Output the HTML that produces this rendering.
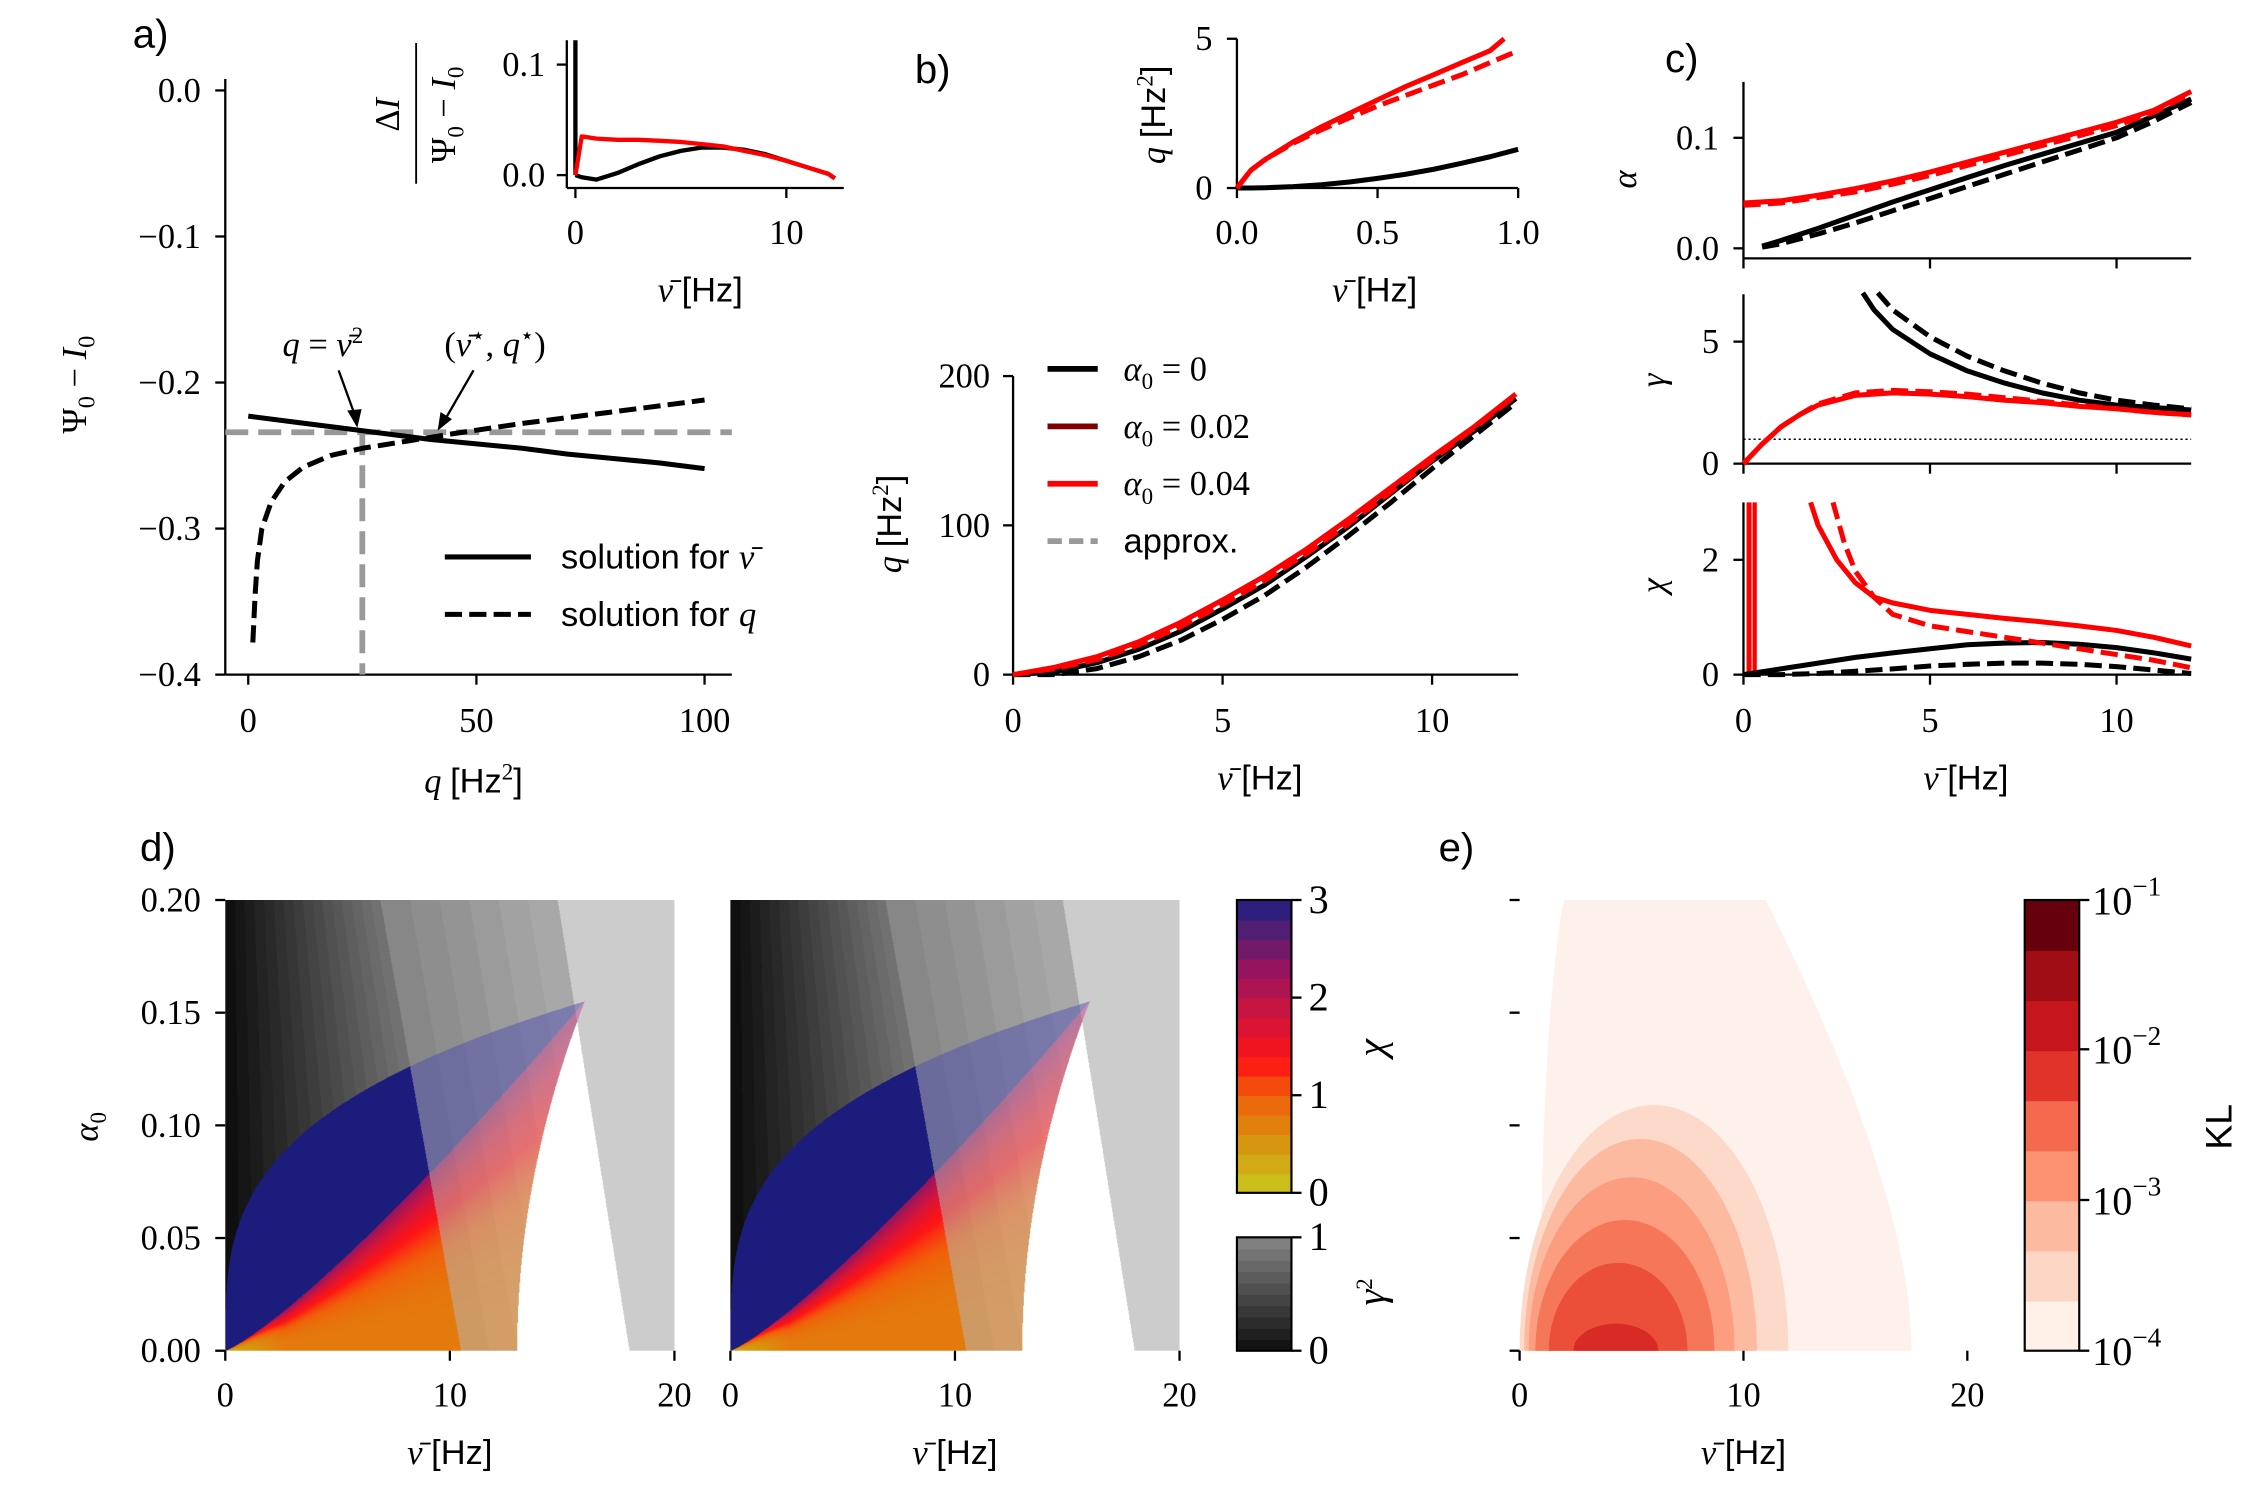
<!DOCTYPE html>
<html><head><meta charset="utf-8">
<style>
html,body{margin:0;padding:0;background:#fff;width:2250px;height:1500px;overflow:hidden}
#wrap{position:absolute;left:0;top:0;width:1568px;height:1045px;transform:scale(1.43495,1.43541);transform-origin:0 0;overflow:hidden}
canvas{position:absolute}
svg{position:absolute;left:0;top:0}
text{font-family:"Liberation Serif",serif;font-size:24px;fill:#000}
.s{font-family:"Liberation Sans",sans-serif}
.i{font-style:italic}
</style></head>
<body>
<div id="wrap">
<canvas id="hm1" width="626" height="628" style="left:157px;top:627px;width:313px;height:314px"></canvas>
<canvas id="hm2" width="626" height="628" style="left:509px;top:627px;width:313px;height:314px"></canvas>
<svg id="fig" width="1568" height="1045" viewBox="0 0 1568 1045">
<defs><clipPath id="clipE"><rect x="1059" y="627" width="312" height="314"/></clipPath></defs>
</svg>
</div>
<script>
// ---- data ----
const qA=[0,10,20,30,40,50,60,70,80,90,100];
const solNu=[-0.223,-0.227,-0.231,-0.235,-0.239,-0.242,-0.245,-0.249,-0.252,-0.255,-0.259];
const qDash=[1,1.5,2,3,5,8,12,18,25,35,45,60,80,100];
const solQ=[-0.378,-0.345,-0.322,-0.300,-0.282,-0.268,-0.258,-0.250,-0.245,-0.240,-0.235,-0.228,-0.220,-0.212];
const nuIn=[0,0.3,1,2,3,4,5,6,7,8,9,10,11,12,12.3];
const blackIn=[0,-0.002,-0.004,0.002,0.01,0.017,0.022,0.025,0.025,0.023,0.019,0.013,0.007,0.001,-0.003];
const redIn=[0,0.035,0.033,0.032,0.032,0.031,0.030,0.028,0.026,0.022,0.018,0.013,0.007,0.001,-0.003];
const nuB=[0,0.05,0.1,0.2,0.3,0.4,0.5,0.6,0.7,0.8,0.9,0.95];
const redB=[0,0.6,0.95,1.55,2.05,2.5,2.95,3.4,3.8,4.2,4.6,5.0];
const nuBd=[0,0.05,0.1,0.2,0.3,0.4,0.5,0.6,0.7,0.8,0.9,1.0];
const redBd=[0,0.6,0.95,1.5,1.95,2.35,2.75,3.1,3.45,3.8,4.2,4.6];
const blackB=[0,0,0.01,0.05,0.11,0.2,0.32,0.46,0.63,0.83,1.05,1.3];
const nuL=[0,1,2,3,4,5,6,7,8,9,10,11,12];
const qRed=[0,5,12,22,35,50,66,84,104,125,146,166,188];
const qRedD=[0,4,10,20,32,47,63,81,101,122,144,165,187];
const qBlack=[0,2,8,17,29,44,60,79,99,121,143,163,185];
const qBlackD=[0,0,4,12,23,37,53,72,93,115,138,160,182];
const nuC=[0.5,1,2,3,4,5,6,7,8,9,10,11,12];
const alphaBlack=[0.002,0.007,0.018,0.030,0.042,0.053,0.064,0.075,0.085,0.095,0.105,0.12,0.135];
const alphaBlackD=[0.001,0.004,0.013,0.023,0.034,0.045,0.056,0.067,0.078,0.089,0.1,0.115,0.132];
const nuC0=[0,1,2,3,4,5,6,7,8,9,10,11,12];
const alphaRed=[0.041,0.043,0.048,0.054,0.061,0.069,0.078,0.087,0.096,0.105,0.114,0.125,0.142];
const alphaRedD=[0.039,0.041,0.046,0.051,0.058,0.066,0.075,0.084,0.093,0.102,0.111,0.123,0.14];
const nuG=[0,0.5,1,1.5,2,3,4,5,6,7,8,9,10,11,12];
const gamRed=[0,0.8,1.5,2.0,2.4,2.8,2.9,2.85,2.75,2.6,2.5,2.35,2.25,2.1,2.0];
const gamRedD=[0,0.8,1.5,2.0,2.45,2.9,3.0,2.95,2.85,2.7,2.55,2.4,2.25,2.1,2.0];
const nuGB=[3.2,3.5,4,5,6,7,8,9,10,11,12];
const gamBlack=[7,6.3,5.5,4.5,3.8,3.3,2.9,2.6,2.4,2.3,2.2];
const nuGBd=[3.6,4,5,6,7,8,9,10,11,12];
const gamBlackD=[7,6.3,5.2,4.4,3.8,3.3,2.9,2.6,2.4,2.25];
const nuX=[1.8,2,2.5,3,3.5,4,5,6,7,8,9,10,11,12];
const chiRed=[3,2.6,2.0,1.6,1.35,1.25,1.12,1.05,0.98,0.92,0.85,0.77,0.65,0.5];
const nuXd=[2.4,2.7,3,3.5,4,5,6,7,8,9,10,11,12];
const chiRedD=[3,2.3,1.8,1.35,1.05,0.85,0.75,0.65,0.55,0.45,0.35,0.25,0.12];
const nuX2=[0,1,2,3,4,5,6,7,8,9,10,11,12];
const chiBlack=[0,0.1,0.2,0.3,0.38,0.45,0.52,0.55,0.56,0.53,0.47,0.38,0.27];
const chiBlackD=[0,0,0.02,0.06,0.1,0.15,0.18,0.2,0.2,0.18,0.14,0.08,0.02];
const klLevels=[1,2,3,4,5,6];
const klCx=[6.0,5.4,5.0,4.7,4.4,4.3];
const klRx=[6.0,5.2,4.6,4.0,3.1,1.9];
const klRy=[0.109,0.094,0.077,0.058,0.039,0.012];
const klColors=['#fcd9c9','#fcbba1','#fc9d80','#f6765a','#eb4f3a','#d92b26'];
const klBar=['#fff0e8','#fdd6c6','#fcbba1','#fc9272','#f5694f','#e03329','#c4161c','#a10d15','#67000d'];

const NS='http://www.w3.org/2000/svg';
const svg=document.getElementById('fig');
function el(tag,attrs,parent){const e=document.createElementNS(NS,tag);for(const k in attrs)e.setAttribute(k,attrs[k]);(parent||svg).appendChild(e);return e;}
function txt(x,y,s,cls,anchor,rot,size){const t=el('text',{x:x,y:y,'text-anchor':anchor||'middle'});if(cls)t.setAttribute('class',cls);if(size)t.style.fontSize=size+'px';if(rot)t.setAttribute('transform','rotate('+rot+' '+x+' '+y+')');t.innerHTML=s;return t;}
function lin(d0,d1,p0,p1){return v=>p0+(v-d0)*(p1-p0)/(d1-d0);}
function line(xs,ys,sx,sy,color,w,dash,name){let d='';for(let i=0;i<xs.length;i++){d+=(i?'L':'M')+sx(xs[i]).toFixed(1)+','+sy(ys[i]).toFixed(1);}const p=el('path',{d:d,fill:'none',stroke:color,'stroke-width':w,'stroke-linejoin':'round'});if(dash)p.setAttribute('stroke-dasharray',dash);return p;}
function seg(x1,y1,x2,y2,c,w,dash){const l=el('line',{x1:x1,y1:y1,x2:x2,y2:y2,stroke:c||'#000','stroke-width':w||1.6});if(dash)l.setAttribute('stroke-dasharray',dash);return l;}
function xticks(vals,labs,sx,y,len,ly){vals.forEach((v,i)=>{seg(sx(v),y,sx(v),y+len);if(labs)txt(sx(v),ly,labs[i]);});}
function yticks(vals,labs,sy,x,lx){vals.forEach((v,i)=>{seg(x,sy(v),x-7,sy(v));if(labs)txt(lx,sy(v)+8,labs[i],null,'end');});}
const NU='<tspan class="i">ν̄</tspan>';

// ---- panel a ----
{const sx=lin(0,100,173,491),sy=lin(0,-0.4,63,470);
seg(157,55,157,470);seg(157,470,510,470);
xticks([0,50,100],['0','50','100'],sx,470,7,510);
yticks([0,-0.1,-0.2,-0.3,-0.4],['0.0','−0.1','−0.2','−0.3','−0.4'],sy,157,140);
const h=seg(157,sy(-0.234),510,sy(-0.234),'#999',4,'16,7');
const v=seg(sx(25),sy(-0.234),sx(25),470,'#999',4,'16,7');
line(qA,solNu,sx,sy,'#000',3.5,null,'line-solution-nu');
line(qDash,solQ,sx,sy,'#000',3.5,'12,5','line-solution-q');
txt(105,33,'a)','s','middle',0,28);
txt(60,268,'Ψ<tspan dy="6" font-size="17">0</tspan><tspan dy="-6"> − </tspan><tspan class="i">I</tspan><tspan dy="6" font-size="17">0</tspan>',null,'middle',-90);
txt(330,552,'<tspan class="i">q</tspan> <tspan class="s">[Hz</tspan><tspan dy="-9" font-size="16">2</tspan><tspan dy="9" class="s">]</tspan>');
txt(225,248,'<tspan class="i">q</tspan> = '+NU+'<tspan dy="-9" font-size="16">2</tspan>');
txt(345,248,'('+NU+'<tspan dy="-9" font-size="16">⋆</tspan><tspan dy="9">, </tspan><tspan class="i">q</tspan><tspan dy="-9" font-size="16">⋆</tspan><tspan dy="9">)</tspan>');
seg(236,258,249,294,'#000',1.6);el('path',{d:'M249,298 L242,286 L252,285 Z',fill:'#000'});
seg(330,258,308,296,'#000',1.6);el('path',{d:'M305,300 L307,287 L315,292 Z',fill:'#000'});
const l1=seg(310,388,370,388,'#000',3.5);
const l2=seg(310,428,370,428,'#000',3.5,'12,5');
txt(391,396,'solution for <tspan class="i" font-family="Liberation Serif">ν̄</tspan>','s','start');
txt(391,436,'solution for <tspan class="i" font-family="Liberation Serif">q</tspan>','s','start');
}
// inset a
{const sx=lin(0,10,401,548),sy=lin(0,0.1,122,45);
seg(395,28,395,131);seg(395,131,588,131);
xticks([0,10],['0','10'],sx,131,7,170);
yticks([0,0.1],['0.0','0.1'],sy,395,380);
seg(sx(0),sy(0),sx(0),28,'#000',3);
line(nuIn,blackIn,sx,sy,'#000',3,null,'inset-black');
line(nuIn,redIn,sx,sy,'#f00',3,null,'inset-red');
txt(488,210,NU+' <tspan class="s">[Hz]</tspan>');
txt(278,80,'Δ<tspan class="i">I</tspan>',null,'middle',-90);
seg(290,30,290,128,'#000',1.3);
txt(317,80,'Ψ<tspan dy="6" font-size="16">0</tspan><tspan dy="-6"> − </tspan><tspan class="i">I</tspan><tspan dy="6" font-size="16">0</tspan>',null,'middle',-90);
}
// panel b top
{const sx=lin(0,1,862,1058),sy=lin(0,5,131,27);
seg(862,27,862,131);seg(862,131,1058,131);
xticks([0,0.5,1],['0.0','0.5','1.0'],sx,131,7,170);
yticks([0,5],['0','5'],sy,862,845);
line(nuBd,blackB,sx,sy,'#000',3.5,null,'b-top-black');
line(nuB,redB,sx,sy,'#f00',3.5,null,'b-top-red');
line(nuBd,redBd,sx,sy,'#f00',3.5,'12,5','b-top-red-dashed');
txt(650,58,'b)','s','middle',0,28);
txt(958,210,NU+' <tspan class="s">[Hz]</tspan>');
txt(812,80,'<tspan class="i">q</tspan> <tspan class="s">[Hz</tspan><tspan dy="-9" font-size="16">2</tspan><tspan dy="9" class="s">]</tspan>',null,'middle',-90);
}
// panel b bottom
{const sx=lin(0,10,706,998),sy=lin(0,200,470,262);
seg(706,262,706,470);seg(706,470,1058,470);
xticks([0,5,10],['0','5','10'],sx,470,7,510);
yticks([0,100,200],['0','100','200'],sy,706,690);
line(nuL,qBlackD,sx,sy,'#000',3.5,'12,5','b-black-dashed');
line(nuL,qBlack,sx,sy,'#000',3.5,null,'b-black');
line(nuL,qRedD,sx,sy,'#f00',3.5,'12,5','b-red-dashed');
line(nuL,qRed,sx,sy,'#f00',3.5,null,'b-red');
txt(878,550,NU+' <tspan class="s">[Hz]</tspan>');
txt(628,365,'<tspan class="i">q</tspan> <tspan class="s">[Hz</tspan><tspan dy="-9" font-size="16">2</tspan><tspan dy="9" class="s">]</tspan>',null,'middle',-90);
const cols=['#000','#800000','#f00','#999'],labs=['<tspan class="i">α</tspan><tspan dy="6" font-size="16">0</tspan><tspan dy="-6"> = 0</tspan>','<tspan class="i">α</tspan><tspan dy="6" font-size="16">0</tspan><tspan dy="-6"> = 0.02</tspan>','<tspan class="i">α</tspan><tspan dy="6" font-size="16">0</tspan><tspan dy="-6"> = 0.04</tspan>','<tspan class="s">approx.</tspan>'];
cols.forEach((c,i)=>{const y=257+40*i;const s=seg(730,y,765,y,c,4,i==3?'10,5':null);txt(783,y+8,labs[i],null,'start');});
}
// panel c
{const sx=lin(0,10,1215,1475);
txt(1172,50,'c)','s','middle',0,28);
let sy=lin(0,0.1,173,96);
seg(1215,57,1215,180);seg(1215,180,1527,180);
xticks([0,5,10],null,sx,180,7,0);
yticks([0,0.1],['0.0','0.1'],sy,1215,1198);
line(nuC,alphaBlackD,sx,sy,'#000',3.5,'12,5','alpha-black-dashed');
line(nuC,alphaBlack,sx,sy,'#000',3.5,null,'alpha-black');
line(nuC0,alphaRedD,sx,sy,'#f00',3.5,'12,5','alpha-red-dashed');
line(nuC0,alphaRed,sx,sy,'#f00',3.5,null,'alpha-red');
txt(1140,125,'<tspan class="i">α</tspan>',null,'middle',-90);
sy=lin(0,5,323,238);
seg(1215,205,1215,323);seg(1215,323,1527,323);
xticks([0,5,10],null,sx,323,7,0);
yticks([0,5],['0','5'],sy,1215,1198);
seg(1215,sy(1),1527,sy(1),'#000',1,'1.5,2');
line(nuGB,gamBlack,sx,sy,'#000',3.5,null,'gamma-black');
line(nuGBd,gamBlackD,sx,sy,'#000',3.5,'12,5','gamma-black-dashed');
line(nuG,gamRed,sx,sy,'#f00',3.5,null,'gamma-red');
line(nuG,gamRedD,sx,sy,'#f00',3.5,'12,5','gamma-red-dashed');
txt(1160,265,'<tspan class="i">γ</tspan>',null,'middle',-90);
sy=lin(0,2,470,390);
seg(1215,350,1215,470);seg(1215,470,1527,470);
xticks([0,5,10],['0','5','10'],sx,470,7,510);
yticks([0,2],['0','2'],sy,1215,1198);
seg(sx(0.15),470,sx(0.15),350,'#f00',3.5);seg(sx(0.3),470,sx(0.3),350,'#f00',3);
line(nuX2,chiBlack,sx,sy,'#000',3.5,null,'chi-black');
line(nuX2,chiBlackD,sx,sy,'#000',3.5,'12,5','chi-black-dashed');
line(nuX,chiRed,sx,sy,'#f00',3.5,null,'chi-red');
line(nuXd,chiRedD,sx,sy,'#f00',3.5,'12,5','chi-red-dashed');
txt(1160,408,'<tspan class="i">χ</tspan>',null,'middle',-90);
txt(1370,550,NU+' <tspan class="s">[Hz]</tspan>');
}
// panel d axes
[[157,470],[509,822]].forEach(([x0,x1],k)=>{
 const sx=lin(0,20,x0,x1),sy=lin(0,0.2,941,627);
 xticks([0,10,20],['0','10','20'],sx,941,7,980);
 if(k==0) yticks([0,0.05,0.1,0.15,0.2],['0.00','0.05','0.10','0.15','0.20'],sy,157,140);
 txt((x0+x1)/2,1020,NU+' <tspan class="s">[Hz]</tspan>');
});
txt(110,600,'d)','s','middle',0,28);
txt(68,785,'<tspan class="i">α</tspan><tspan dy="6" font-size="16">0</tspan>',null,'middle',-90);
const chiStops=[[0,[200,200,30]],[0.5,[215,150,15]],[1,[240,95,10]],[1.35,[255,20,20]],[1.8,[210,20,60]],[2.3,[150,20,95]],[2.7,[80,30,115]],[3,[28,28,128]]];
function chiCol(v){v=Math.max(0,Math.min(3,v));for(let i=1;i<chiStops.length;i++){if(v<=chiStops[i][0]){const a=chiStops[i-1],b=chiStops[i];const t=(v-a[0])/(b[0]-a[0]);return a[1].map((c,j)=>c+(b[1][j]-c)*t);}}return chiStops[7][1];}
{const n=15;for(let i=0;i<n;i++){const v=(i+0.5)*3/n;const c=chiCol(v).map(Math.round);const r=el('rect',{x:862,y:831-(i+1)*204/n,width:38,height:204/n+0.6,fill:'rgb('+c+')'});}
el('rect',{x:862,y:627,width:38,height:204,fill:'none',stroke:'#000','stroke-width':1.5});
const sy=lin(0,3,831,627);[0,1,2,3].forEach(v=>{seg(900,sy(v),907,sy(v));txt(912,sy(v)+9,''+v,null,'start',0,28);});
txt(965,730,'<tspan class="i">χ</tspan>',null,'middle',-90,28);
for(let i=0;i<10;i++){const g=Math.round(20+i*12);const r=el('rect',{x:862,y:941-(i+1)*7.9,width:38,height:8.5,fill:'rgb('+g+','+g+','+g+')'});}
el('rect',{x:862,y:862,width:38,height:79,fill:'none',stroke:'#000','stroke-width':1.5});
seg(900,862,907,862);seg(900,941,907,941);txt(912,871,'1',null,'start',0,28);txt(912,950,'0',null,'start',0,28);
txt(965,900,'<tspan class="i">γ</tspan><tspan dy="-9" font-size="16">2</tspan>',null,'middle',-90,28);
}
// panel e
{const sx=lin(0,20,1059,1371),sy=lin(0,0.2,941,627);
const ge=el('g',{'clip-path':'url(#clipE)'});
const bg=el('path',{d:'M'+sx(1)+','+sy(0)+' C'+sx(0.8)+','+sy(0.1)+' '+sx(1.5)+','+sy(0.18)+' '+sx(2)+','+sy(0.2)+' L'+sx(11)+','+sy(0.2)+' C'+sx(14)+','+sy(0.14)+' '+sx(17.5)+','+sy(0.06)+' '+sx(17.5)+','+sy(0)+' Z',fill:'#fef0ea'},ge);

klLevels.forEach((lv,i)=>{const e=el('ellipse',{cx:sx(klCx[i]),cy:sy(0),rx:klRx[i]*15.6,ry:klRy[i]*1570,fill:klColors[i]},ge);});
xticks([0,10,20],['0','10','20'],sx,941,7,980);
[0,0.05,0.1,0.15,0.2].forEach(v=>seg(1059,sy(v),1052,sy(v)));
txt(1215,1020,NU+' <tspan class="s">[Hz]</tspan>');
txt(1015,600,'e)','s','middle',0,28);
const bh=314/9;klBar.forEach((c,i)=>{const r=el('rect',{x:1411,y:941-(i+1)*bh,width:38,height:bh+0.6,fill:c});});
el('rect',{x:1411,y:627,width:38,height:314,fill:'none',stroke:'#000','stroke-width':1.5});
[[941,'-4'],[836,'-3'],[731,'-2'],[627,'-1']].forEach(([y,e])=>{seg(1449,y,1456,y);txt(1458,y+10,'10<tspan dy="-13" font-size="19">'+e.replace('-','−')+'</tspan>',null,'start',0,28);});
txt(1555,785,'KL','s','middle',-90,26);
}
// heatmaps
function drawHM(id){const cv=document.getElementById(id),ctx=cv.getContext('2d');const W=cv.width,H=cv.height;const img=ctx.createImageData(W,H);
for(let py=0;py<H;py++){const a=0.2*(1-(py+0.5)/H);for(let px=0;px<W;px++){const nu=20*(px+0.5)/W;
 const c1=10.5-18*a,c2=18-16*a,wB=13+125*a*a;
 let gv;if(nu<c1)gv=15+105*Math.floor(nu/c1*16)/16;else if(nu<c2)gv=135+40*Math.floor((nu-c1)/(c2-c1)*6)/6;else gv=204;
 let col=[gv,gv,gv];
 const up=nu<16?0.155*Math.pow(nu/16,0.31):0.155,lo=nu<16?0.155*Math.pow(nu/16,1.2):0.155;
 if(a<0.155&&nu>wB&&nu<c2&&(nu>16||a<up))col=[255,255,255];
 else if(nu<16&&a<up&&nu<=wB){let cc;if(a>lo)cc=[28,28,125];else{const t=a/lo;let chi=0.75+1.6*Math.pow(t,3);chi*=Math.min(1,0.35+nu/4);cc=chiCol(chi);}
  if(nu<c1)col=cc;else col=cc.map((v,j)=>0.5*v+0.5*col[j]+25);}
 const k=(py*W+px)*4;img.data[k]=Math.min(255,col[0]);img.data[k+1]=Math.min(255,col[1]);img.data[k+2]=Math.min(255,col[2]);img.data[k+3]=255;}}
ctx.putImageData(img,0,0);}
drawHM('hm1');drawHM('hm2');
</script>
</body></html>
